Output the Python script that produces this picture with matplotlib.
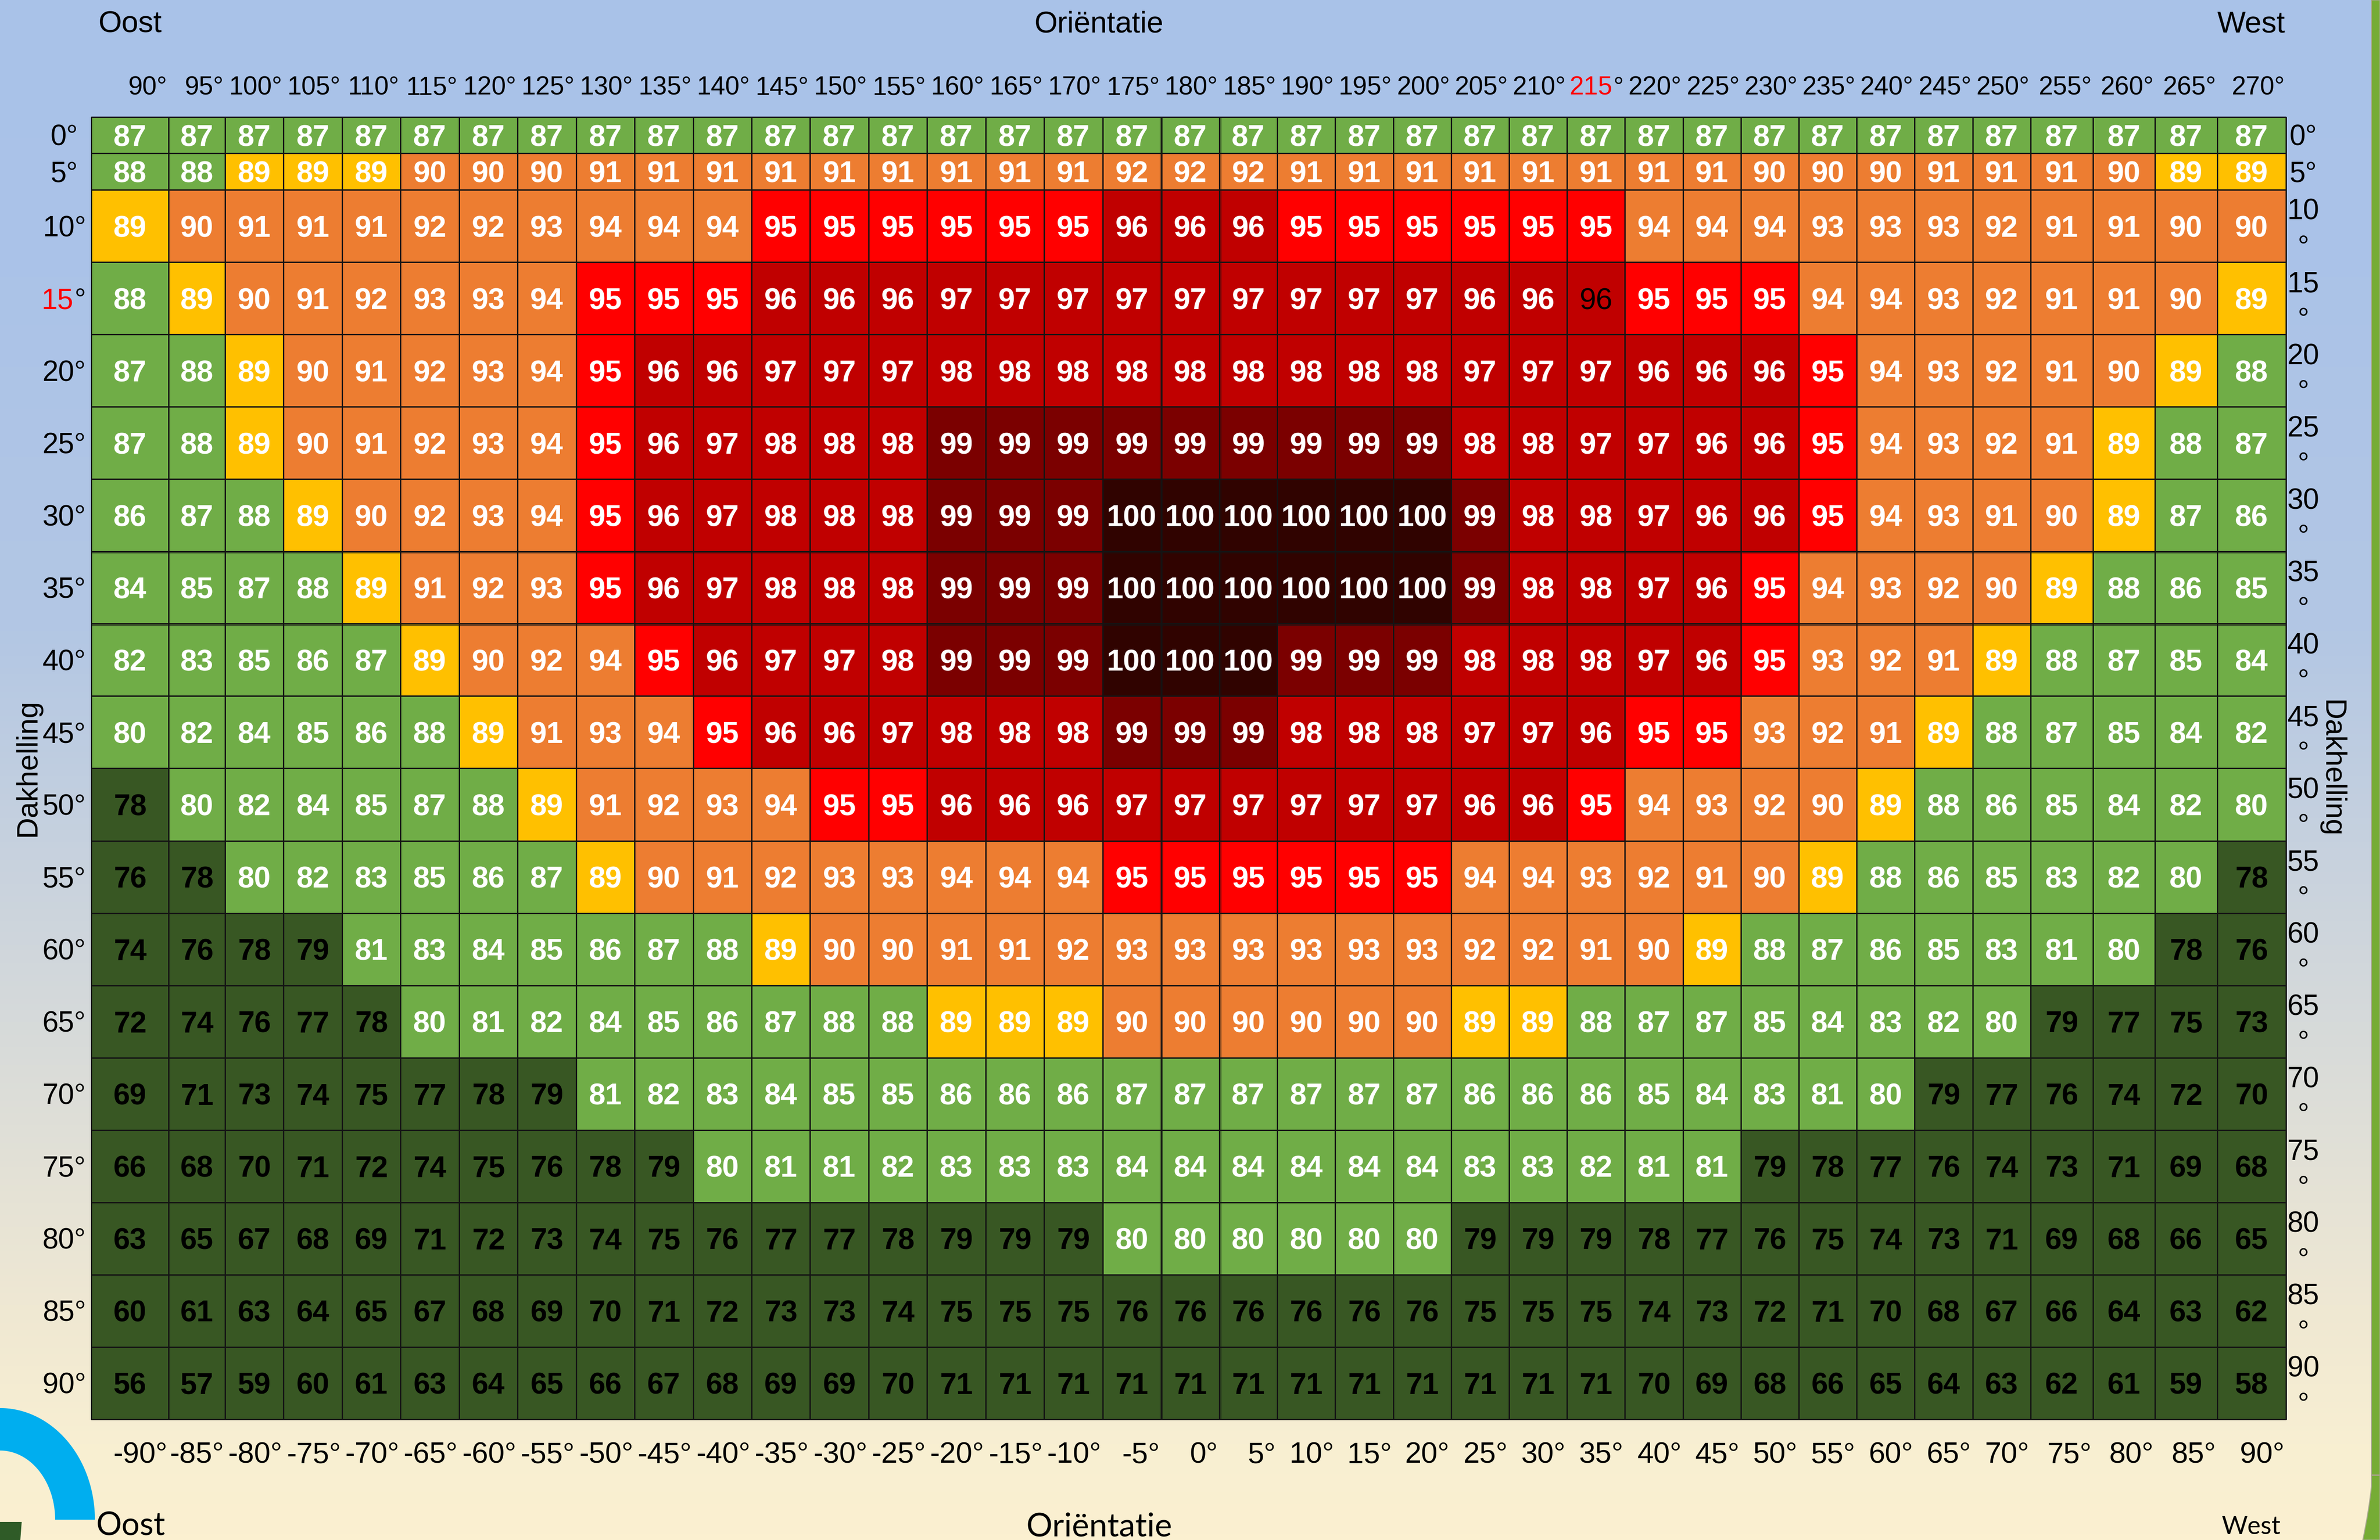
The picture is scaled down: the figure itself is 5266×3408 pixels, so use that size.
import numpy as np
import matplotlib
matplotlib.use('Agg')
import matplotlib.pyplot as plt
from matplotlib.colors import BoundaryNorm, LinearSegmentedColormap, ListedColormap
from matplotlib.patches import PathPatch, Polygon
from matplotlib.path import Path

# dakhelling (rijen) en orientatie (kolommen)
tilts = [0, 5, 10, 15, 20, 25, 30, 35, 40, 45, 50, 55, 60, 65, 70, 75, 80, 85, 90]
top_labels = [f'{a}°' for a in range(90, 275, 5)]
bottom_labels = [f'{a}°' for a in range(-90, 95, 5)]

row_0 = [87] * 37
row_5 = [88, 88, 89, 89, 89, 90, 90, 90, 91, 91, 91, 91, 91, 91, 91, 91, 91, 92, 92, 92, 91, 91, 91, 91, 91, 91, 91, 91, 90, 90, 90, 91, 91, 91, 90, 89, 89]
row_10 = [89, 90, 91, 91, 91, 92, 92, 93, 94, 94, 94, 95, 95, 95, 95, 95, 95, 96, 96, 96, 95, 95, 95, 95, 95, 95, 94, 94, 94, 93, 93, 93, 92, 91, 91, 90, 90]
row_15 = [88, 89, 90, 91, 92, 93, 93, 94, 95, 95, 95, 96, 96, 96, 97, 97, 97, 97, 97, 97, 97, 97, 97, 96, 96, 96, 95, 95, 95, 94, 94, 93, 92, 91, 91, 90, 89]
row_20 = [87, 88, 89, 90, 91, 92, 93, 94, 95, 96, 96, 97, 97, 97, 98, 98, 98, 98, 98, 98, 98, 98, 98, 97, 97, 97, 96, 96, 96, 95, 94, 93, 92, 91, 90, 89, 88]
row_25 = [87, 88, 89, 90, 91, 92, 93, 94, 95, 96, 97, 98, 98, 98, 99, 99, 99, 99, 99, 99, 99, 99, 99, 98, 98, 97, 97, 96, 96, 95, 94, 93, 92, 91, 89, 88, 87]
row_30 = [86, 87, 88, 89, 90, 92, 93, 94, 95, 96, 97, 98, 98, 98, 99, 99, 99, 100, 100, 100, 100, 100, 100, 99, 98, 98, 97, 96, 96, 95, 94, 93, 91, 90, 89, 87, 86]
row_35 = [84, 85, 87, 88, 89, 91, 92, 93, 95, 96, 97, 98, 98, 98, 99, 99, 99, 100, 100, 100, 100, 100, 100, 99, 98, 98, 97, 96, 95, 94, 93, 92, 90, 89, 88, 86, 85]
row_40 = [82, 83, 85, 86, 87, 89, 90, 92, 94, 95, 96, 97, 97, 98, 99, 99, 99, 100, 100, 100, 99, 99, 99, 98, 98, 98, 97, 96, 95, 93, 92, 91, 89, 88, 87, 85, 84]
row_45 = [80, 82, 84, 85, 86, 88, 89, 91, 93, 94, 95, 96, 96, 97, 98, 98, 98, 99, 99, 99, 98, 98, 98, 97, 97, 96, 95, 95, 93, 92, 91, 89, 88, 87, 85, 84, 82]
row_50 = [78, 80, 82, 84, 85, 87, 88, 89, 91, 92, 93, 94, 95, 95, 96, 96, 96, 97, 97, 97, 97, 97, 97, 96, 96, 95, 94, 93, 92, 90, 89, 88, 86, 85, 84, 82, 80]
row_55 = [76, 78, 80, 82, 83, 85, 86, 87, 89, 90, 91, 92, 93, 93, 94, 94, 94, 95, 95, 95, 95, 95, 95, 94, 94, 93, 92, 91, 90, 89, 88, 86, 85, 83, 82, 80, 78]
row_60 = [74, 76, 78, 79, 81, 83, 84, 85, 86, 87, 88, 89, 90, 90, 91, 91, 92, 93, 93, 93, 93, 93, 93, 92, 92, 91, 90, 89, 88, 87, 86, 85, 83, 81, 80, 78, 76]
row_65 = [72, 74, 76, 77, 78, 80, 81, 82, 84, 85, 86, 87, 88, 88, 89, 89, 89, 90, 90, 90, 90, 90, 90, 89, 89, 88, 87, 87, 85, 84, 83, 82, 80, 79, 77, 75, 73]
row_70 = [69, 71, 73, 74, 75, 77, 78, 79, 81, 82, 83, 84, 85, 85, 86, 86, 86, 87, 87, 87, 87, 87, 87, 86, 86, 86, 85, 84, 83, 81, 80, 79, 77, 76, 74, 72, 70]
row_75 = [66, 68, 70, 71, 72, 74, 75, 76, 78, 79, 80, 81, 81, 82, 83, 83, 83, 84, 84, 84, 84, 84, 84, 83, 83, 82, 81, 81, 79, 78, 77, 76, 74, 73, 71, 69, 68]
row_80 = [63, 65, 67, 68, 69, 71, 72, 73, 74, 75, 76, 77, 77, 78, 79, 79, 79, 80, 80, 80, 80, 80, 80, 79, 79, 79, 78, 77, 76, 75, 74, 73, 71, 69, 68, 66, 65]
row_85 = [60, 61, 63, 64, 65, 67, 68, 69, 70, 71, 72, 73, 73, 74, 75, 75, 75, 76, 76, 76, 76, 76, 76, 75, 75, 75, 74, 73, 72, 71, 70, 68, 67, 66, 64, 63, 62]
row_90 = [56, 57, 59, 60, 61, 63, 64, 65, 66, 67, 68, 69, 69, 70, 71, 71, 71, 71, 71, 71, 71, 71, 71, 71, 71, 71, 70, 69, 68, 66, 65, 64, 63, 62, 61, 59, 58]

values = np.array([row_0, row_5, row_10, row_15, row_20, row_25, row_30, row_35, row_40, row_45,
                   row_50, row_55, row_60, row_65, row_70, row_75, row_80, row_85, row_90])

# kleurklassen
class_bounds = [0, 80, 89, 90, 95, 96, 99, 100, 101]
class_colors = ['#385723', '#70AD47', '#FFC000', '#ED7D31', '#FF0000', '#C00000', '#7B0000', '#300300']

# maten in pixels van het plaatje
grid_x0 = 202
grid_y0 = 259
col_widths = [171, 125] + [129.44] * 16 + [128.9] + [128.2] * 14 + [138, 137, 138, 152]
row_heights = [80, 81] + [160.06] * 17
x_edges = grid_x0 + np.cumsum([0] + col_widths)
y_edges = grid_y0 + np.cumsum([0] + row_heights)
x_mid = (x_edges[:-1] + x_edges[1:]) / 2
y_mid = (y_edges[:-1] + y_edges[1:]) / 2

plt.rcParams['font.family'] = ['Liberation Sans', 'DejaVu Sans']

fig = plt.figure(figsize=(52.66, 34.08), dpi=100)
ax = fig.add_axes([0, 0, 1, 1])
ax.axis('off')

# achtergrond
bg_cmap = LinearSegmentedColormap.from_list('bg', [
    (0.0, '#A9C2E8'), (0.18, '#ABC3E8'), (0.41, '#B3C7E4'), (0.56, '#C8D2DE'),
    (0.85, '#EFE8D3'), (0.94, '#F8EFD2'), (1.0, '#FBF0D0')])
ax.imshow(np.linspace(0, 1, 512).reshape(-1, 1), cmap=bg_cmap, aspect='auto',
          extent=[0, 5266, 3408, 0], zorder=0)

# groene rand rechts
band = Path([(5247, 0), (5266, 0), (5266, 3408), (5228, 3408), (5242, 3340), (5247, 3290), (5247, 0)],
            [Path.MOVETO, Path.LINETO, Path.LINETO, Path.LINETO, Path.CURVE3, Path.CURVE3, Path.LINETO])
ax.add_patch(PathPatch(band, facecolor='#76AC35', edgecolor='#A8A88F', lw=1.5, zorder=1))
ax.plot([5248, 5266], [3264, 3264], color='#A9A28C', lw=2.2, zorder=2)

# blauwe boog en groen stukje linksonder
t = np.linspace(0, np.pi / 2, 100)
outer = np.column_stack([210 * np.sin(t), 3363 - 247 * np.cos(t)])
inner = np.column_stack([122 * np.sin(t), 3363 - 153 * np.cos(t)])
ax.add_patch(Polygon(np.vstack([outer, inner[::-1]]), closed=True, facecolor='#00AEEF', edgecolor='none', zorder=1))
ax.add_patch(Polygon([(0, 3368), (48, 3368), (45, 3408), (0, 3408)], closed=True, facecolor='#2F5B27', edgecolor='none', zorder=1))

# de tabel
cmap = ListedColormap(class_colors)
norm = BoundaryNorm(class_bounds, cmap.N)
ax.pcolormesh(x_edges, y_edges, values, cmap=cmap, norm=norm, edgecolors='#141414', linewidth=1.0, zorder=2)

# dubbele lijnen
ax.vlines([x_edges[18] + 2.5, x_edges[19] + 3], y_edges[0], y_edges[-1], color='#141414', lw=1.0, zorder=3)
ax.hlines([y_edges[7] + 2.5, y_edges[8] + 2.5], x_edges[0], x_edges[-1], color='#141414', lw=1.0, zorder=3)

ax.set_xlim(0, 5266)
ax.set_ylim(3408, 0)

# getallen in de cellen
for i in range(len(tilts)):
    for j in range(len(top_labels)):
        v = values[i, j]
        if tilts[i] == 15 and top_labels[j] == '215°':
            ax.text(x_mid[j], y_mid[i] + 24, str(v), color='black', fontsize=47.5, ha='center', va='baseline', zorder=4)
        else:
            ax.text(x_mid[j], y_mid[i] + 24, str(v), color='white' if v >= 80 else 'black', fontsize=47.5,
                    fontweight='bold', ha='center', va='baseline', zorder=4)

fig.canvas.draw()

# labels boven en onder
for j, lab in enumerate(top_labels):
    if lab == '215°':
        deg = ax.text(x_edges[j + 1] - 3, 210, '°', fontsize=41, ha='right', va='baseline', zorder=4)
        left = deg.get_window_extent().x0
        ax.text(left - 2, 210, '215', color='red', fontsize=41, ha='right', va='baseline', zorder=4)
    else:
        ax.text(x_edges[j + 1] - 3, 210, lab, fontsize=41, ha='right', va='baseline', zorder=4)
for j, lab in enumerate(bottom_labels):
    ax.text(x_edges[j + 1] - 3, 3237, lab, fontsize=47, ha='right', va='baseline', zorder=4)

# labels links en rechts
for i, tilt in enumerate(tilts):
    base = y_mid[i] + 23
    if tilt == 15:
        deg = ax.text(190, base, '°', fontsize=46, ha='right', va='baseline', zorder=4)
        left = deg.get_window_extent().x0
        ax.text(left - 2, base, '15', color='red', fontsize=46, ha='right', va='baseline', zorder=4)
    else:
        ax.text(142, base, f'{tilt}°', fontsize=46, ha='center', va='baseline', zorder=4)
    if tilt < 10:
        ax.text(5096, base, f'{tilt}°', fontsize=46, ha='center', va='baseline', zorder=4)
    else:
        ax.text(5096, y_edges[i] + 19, f'{tilt}\n°', fontsize=46, ha='center', va='top', linespacing=1.42, zorder=4)

# assentitels
ax.text(218, 71, 'Oost', fontsize=48, ha='left', va='baseline', zorder=4)
ax.text(2432, 72, 'Oriëntatie', fontsize=47.5, ha='center', va='baseline', zorder=4)
ax.text(5056, 71, 'West', fontsize=48, ha='right', va='baseline', zorder=4)
ax.text(62, 1699, 'Dakhelling', fontsize=47, rotation=90, ha='center', va='center', zorder=4)
ax.text(5158, 1701, 'Dakhelling', fontsize=47, rotation=-90, ha='center', va='center', zorder=4)
ax.text(213, 3398, 'Oost', fontsize=51, family=['Lato', 'DejaVu Sans'], ha='left', va='baseline', zorder=4)
ax.text(2432, 3400, 'Oriëntatie', fontsize=52, family=['Lato', 'DejaVu Sans'], ha='center', va='baseline', zorder=4)
ax.text(5046, 3395, 'West', fontsize=40, family=['Lato', 'DejaVu Sans'], ha='right', va='baseline', zorder=4)

fig.savefig('out.png', dpi=100)
